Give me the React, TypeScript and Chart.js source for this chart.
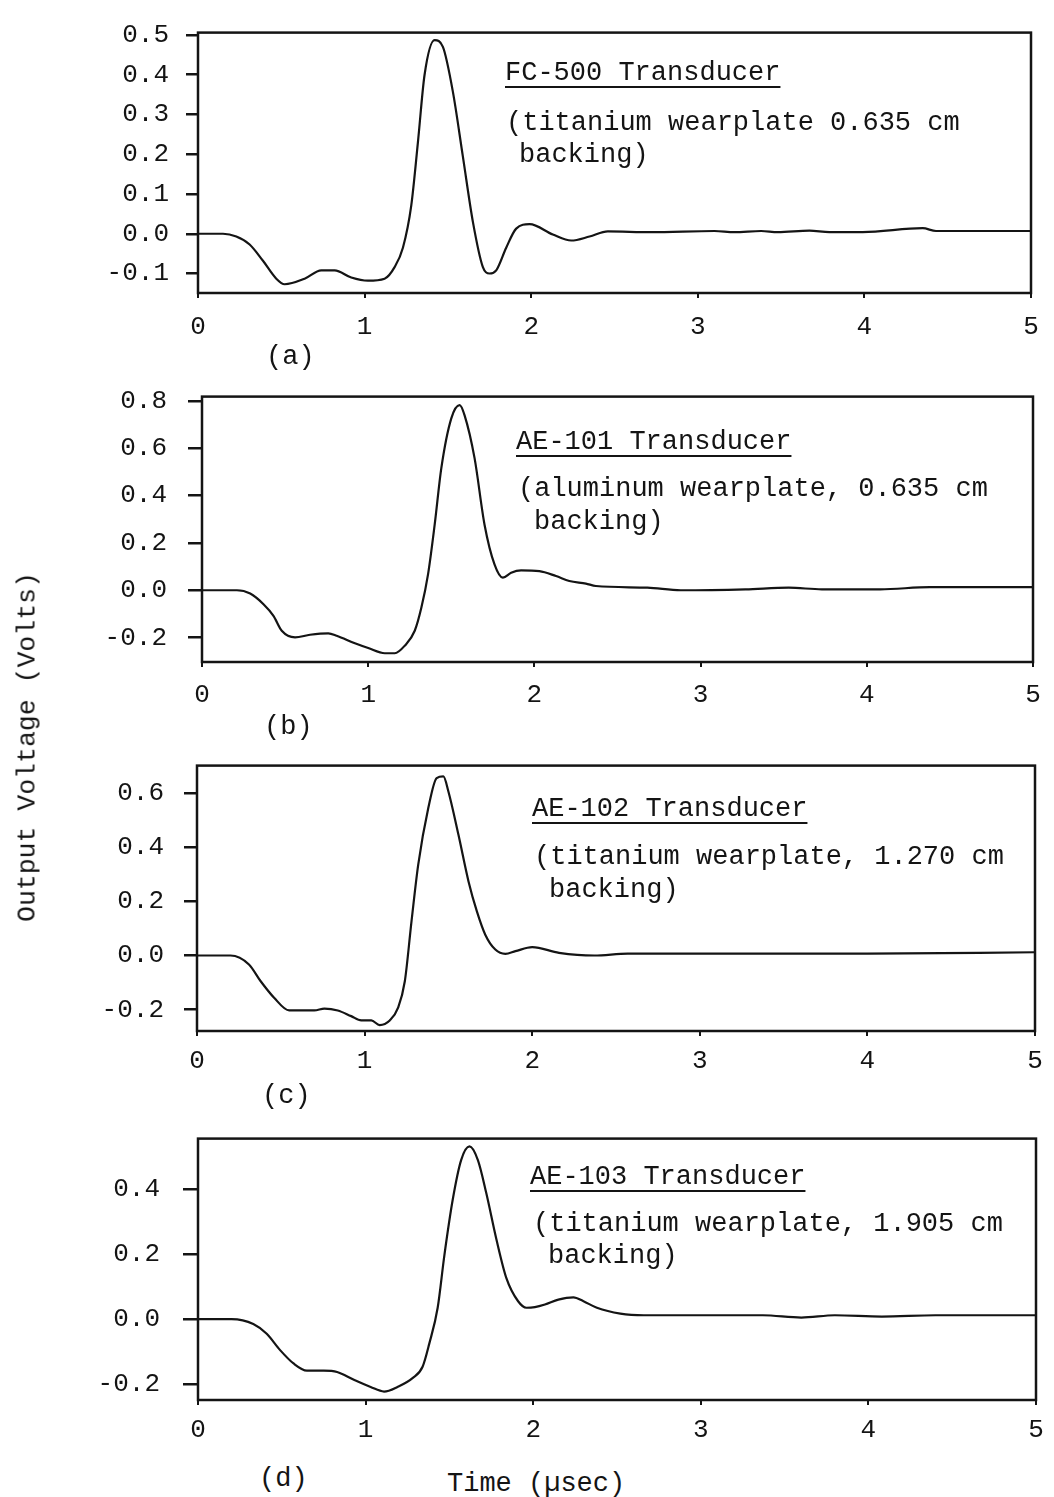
import React, { useEffect, useRef } from 'react';
import { Chart, registerables } from 'chart.js';

Chart.register(...registerables);

// ---------------- data ----------------
const X_TICKS = [0, 1, 2, 3, 4, 5];

const TIME_A = [0, 0.15, 0.23, 0.31, 0.39, 0.47, 0.52, 0.64, 0.74, 0.82, 0.92, 1.02, 1.12, 1.18, 1.23, 1.28, 1.32, 1.36, 1.42, 1.47, 1.53, 1.59, 1.65, 1.71, 1.75, 1.79, 1.85, 1.91, 1.99, 2.13, 2.24, 2.35, 2.46, 2.72, 3.1, 3.22, 3.38, 3.48, 3.67, 3.79, 3.99, 4.35, 4.43, 5.0];
const VOLT_A = [0, 0, -0.007, -0.027, -0.068, -0.113, -0.127, -0.113, -0.092, -0.092, -0.11, -0.118, -0.113, -0.084, -0.035, 0.071, 0.23, 0.4, 0.487, 0.47, 0.357, 0.194, 0.03, -0.084, -0.1, -0.092, -0.035, 0.013, 0.024, -0.002, -0.017, -0.007, 0.006, 0.004, 0.007, 0.004, 0.007, 0.004, 0.008, 0.004, 0.004, 0.014, 0.007, 0.007];
const Y_TICKS_A = [-0.1, 0, 0.1, 0.2, 0.3, 0.4, 0.5];

const TIME_B = [0, 0.21, 0.29, 0.37, 0.43, 0.48, 0.56, 0.65, 0.76, 0.81, 0.92, 1.0, 1.1, 1.16, 1.22, 1.28, 1.32, 1.36, 1.4, 1.44, 1.5, 1.55, 1.58, 1.64, 1.7, 1.76, 1.81, 1.86, 1.92, 2.03, 2.13, 2.21, 2.31, 2.37, 2.68, 2.88, 3.27, 3.53, 3.73, 4.08, 4.38, 5.0];
const VOLT_B = [0, 0, -0.014, -0.059, -0.108, -0.171, -0.199, -0.188, -0.182, -0.192, -0.224, -0.244, -0.266, -0.266, -0.234, -0.171, -0.073, 0.067, 0.277, 0.516, 0.726, 0.782, 0.739, 0.558, 0.277, 0.109, 0.053, 0.074, 0.084, 0.081, 0.06, 0.039, 0.028, 0.018, 0.011, 0.0, 0.004, 0.011, 0.004, 0.004, 0.013, 0.013];
const Y_TICKS_B = [-0.2, 0, 0.2, 0.4, 0.6, 0.8];

const TIME_C = [0, 0.2, 0.31, 0.38, 0.46, 0.55, 0.7, 0.76, 0.84, 0.92, 0.98, 1.04, 1.09, 1.15, 1.2, 1.24, 1.28, 1.32, 1.38, 1.43, 1.47, 1.5, 1.56, 1.62, 1.67, 1.72, 1.78, 1.84, 1.9, 2.0, 2.16, 2.37, 2.57, 3.0, 4.0, 5.0];
const VOLT_C = [0, 0, -0.033, -0.095, -0.156, -0.203, -0.203, -0.196, -0.203, -0.224, -0.24, -0.24, -0.257, -0.24, -0.193, -0.095, 0.127, 0.336, 0.545, 0.656, 0.662, 0.606, 0.446, 0.274, 0.163, 0.077, 0.022, 0.006, 0.016, 0.031, 0.01, 0.0, 0.007, 0.007, 0.007, 0.012];
const Y_TICKS_C = [-0.2, 0, 0.2, 0.4, 0.6];

const TIME_D = [0, 0.2, 0.33, 0.41, 0.49, 0.57, 0.65, 0.75, 0.83, 0.93, 1.03, 1.11, 1.19, 1.28, 1.34, 1.38, 1.43, 1.47, 1.52, 1.57, 1.62, 1.67, 1.72, 1.78, 1.84, 1.91, 1.96, 2.01, 2.07, 2.15, 2.24, 2.3, 2.38, 2.52, 2.66, 3.37, 3.6, 3.8, 4.08, 4.4, 5.0];
const VOLT_D = [0, 0, -0.015, -0.045, -0.095, -0.136, -0.158, -0.158, -0.162, -0.186, -0.208, -0.222, -0.208, -0.181, -0.146, -0.075, 0.035, 0.196, 0.367, 0.488, 0.53, 0.488, 0.387, 0.246, 0.126, 0.055, 0.035, 0.037, 0.045, 0.06, 0.067, 0.055, 0.035, 0.017, 0.012, 0.012, 0.005, 0.012, 0.008, 0.012, 0.012];
const Y_TICKS_D = [-0.2, 0, 0.2, 0.4];

const TITLES = ['FC-500 Transducer', 'AE-101 Transducer', 'AE-102 Transducer', 'AE-103 Transducer'];
const NOTES_1 = ['(titanium wearplate 0.635 cm', '(aluminum wearplate, 0.635 cm', '(titanium wearplate, 1.270 cm', '(titanium wearplate, 1.905 cm'];
const NOTES_2 = ['backing)', 'backing)', 'backing)', 'backing)'];
const PANEL_LETTERS = ['(a)', '(b)', '(c)', '(d)'];
const Y_TITLE = 'Output Voltage (Volts)';
const X_TITLE = 'Time (\u00B5sec)';

// ---------------- layout ----------------
const W = 1054;
const FONT = "'Liberation Mono', 'DejaVu Sans Mono', monospace";
const INK = '#141414';

type Panel = {
  time: number[]; volt: number[]; yTicks: number[];
  yMin: number; yMax: number;
  boxLeft: number; boxTop: number; boxRight: number; boxBottom: number;
  canvasTop: number; yPad: number; xPad: number; tick: number;
  title: [number, number]; note1: [number, number]; note2: [number, number]; letter: [number, number];
};

const PANELS: Panel[] = [
  { time: TIME_A, volt: VOLT_A, yTicks: Y_TICKS_A, yMin: -0.149, yMax: 0.506,
    boxLeft: 198, boxTop: 22, boxRight: 1031, boxBottom: 293, canvasTop: 0, yPad: 17, xPad: 14, tick: 12,
    title: [505, 81], note1: [506, 131], note2: [519, 163], letter: [266, 365] },
  { time: TIME_B, volt: VOLT_B, yTicks: Y_TICKS_B, yMin: -0.303, yMax: 0.818,
    boxLeft: 202, boxTop: 391, boxRight: 1033, boxBottom: 662, canvasTop: 360, yPad: 21, xPad: 13, tick: 14,
    title: [516, 450], note1: [518, 497], note2: [534, 530], letter: [264, 735] },
  { time: TIME_C, volt: VOLT_C, yTicks: Y_TICKS_C, yMin: -0.279, yMax: 0.702,
    boxLeft: 197, boxTop: 761, boxRight: 1035, boxBottom: 1031, canvasTop: 730, yPad: 20, xPad: 10, tick: 13,
    title: [532, 817], note1: [534, 865], note2: [549, 898], letter: [262, 1104] },
  { time: TIME_D, volt: VOLT_D, yTicks: Y_TICKS_D, yMin: -0.248, yMax: 0.554,
    boxLeft: 198, boxTop: 1131, boxRight: 1036, boxBottom: 1400, canvasTop: 1100, yPad: 23, xPad: 10, tick: 15,
    title: [530, 1185], note1: [533, 1232], note2: [548, 1264], letter: [259, 1487] },
];

const X_AXIS_SPACE = 52;

const framePlugin = {
  id: 'frame',
  afterDraw(chart: any) {
    const { ctx, chartArea } = chart;
    ctx.save();
    ctx.strokeStyle = INK;
    ctx.lineWidth = 2.5;
    ctx.strokeRect(chartArea.left, chartArea.top, chartArea.right - chartArea.left, chartArea.bottom - chartArea.top);
    ctx.restore();
  },
};

function PanelChart({ p }: { p: Panel }) {
  const ref = useRef<HTMLCanvasElement | null>(null);
  const height = p.boxBottom + X_AXIS_SPACE - p.canvasTop;
  useEffect(() => {
    if (!ref.current) return;
    const chart = new Chart(ref.current, {
      type: 'line',
      data: {
        datasets: [{
          data: p.time.map((t, i) => ({ x: t, y: p.volt[i] })),
          borderColor: INK,
          borderWidth: 2.2,
          pointRadius: 0,
          cubicInterpolationMode: 'monotone',
          fill: false,
        }],
      },
      options: {
        responsive: false,
        animation: false,
        devicePixelRatio: 1,
        events: [],
        layout: { padding: { left: 0, top: p.boxTop - p.canvasTop, right: W - p.boxRight, bottom: 0 } },
        plugins: { legend: { display: false }, tooltip: { enabled: false }, title: { display: false } },
        scales: {
          x: {
            type: 'linear', min: 0, max: 5,
            afterBuildTicks: (s: any) => { s.ticks = X_TICKS.map((v) => ({ value: v })); },
            afterFit: (s: any) => { s.height = X_AXIS_SPACE; },
            grid: { display: true, drawOnChartArea: false, drawTicks: true, tickLength: 5, lineWidth: 2, color: INK },
            border: { display: false },
            ticks: { color: INK, font: { family: FONT, size: 26 }, padding: p.xPad, maxRotation: 0, autoSkip: false,
              callback: (v: any) => String(v) },
          },
          y: {
            type: 'linear', min: p.yMin, max: p.yMax,
            afterBuildTicks: (s: any) => { s.ticks = p.yTicks.map((v) => ({ value: v })); },
            afterFit: (s: any) => { s.width = p.boxLeft; },
            grid: { display: true, drawOnChartArea: false, drawTicks: true, tickLength: p.tick, lineWidth: 2.5, color: INK },
            border: { display: false },
            ticks: { color: INK, font: { family: FONT, size: 26 }, padding: p.yPad, autoSkip: false,
              callback: (v: any) => Number(v).toFixed(1) },
          },
        },
      } as any,
      plugins: [framePlugin],
    });
    return () => chart.destroy();
  }, [p]);
  return (
    <canvas ref={ref} width={W} height={height}
      style={{ position: 'absolute', left: 0, top: p.canvasTop, width: W, height, display: 'block' }} />
  );
}

const FS = 27;
function Txt({ x, y, children, underline }: { x: number; y: number; children: React.ReactNode; underline?: boolean }) {
  return (
    <div style={{
      position: 'absolute', left: x, top: y - 0.7665 * FS, fontSize: FS, lineHeight: `${FS}px`,
      fontFamily: FONT, color: INK, whiteSpace: 'pre', zIndex: 5,
      textDecoration: underline ? 'underline' : 'none', textUnderlineOffset: '6px', textDecorationThickness: '2px',
    }}>{children}</div>
  );
}

export default function App() {
  return (
    <div style={{ position: 'absolute', left: 0, top: 0, width: W, height: 1497, background: '#fff', overflow: 'hidden' }}>
      {PANELS.map((p, i) => <PanelChart key={i} p={p} />)}
      {PANELS.map((p, i) => (
        <React.Fragment key={'t' + i}>
          <Txt x={p.title[0]} y={p.title[1]} underline>{TITLES[i]}</Txt>
          <Txt x={p.note1[0]} y={p.note1[1]}>{NOTES_1[i]}</Txt>
          <Txt x={p.note2[0]} y={p.note2[1]}>{NOTES_2[i]}</Txt>
          <Txt x={p.letter[0]} y={p.letter[1]}>{PANEL_LETTERS[i]}</Txt>
        </React.Fragment>
      ))}
      <Txt x={447} y={1492}>{X_TITLE}</Txt>
      <div style={{
        position: 'absolute', left: 28, top: 747, transform: 'translate(-50%, -50%) rotate(-90deg)',
        fontSize: 26.5, lineHeight: '27px', fontFamily: FONT, color: INK, whiteSpace: 'pre', zIndex: 5,
      }}>{Y_TITLE}</div>
    </div>
  );
}
